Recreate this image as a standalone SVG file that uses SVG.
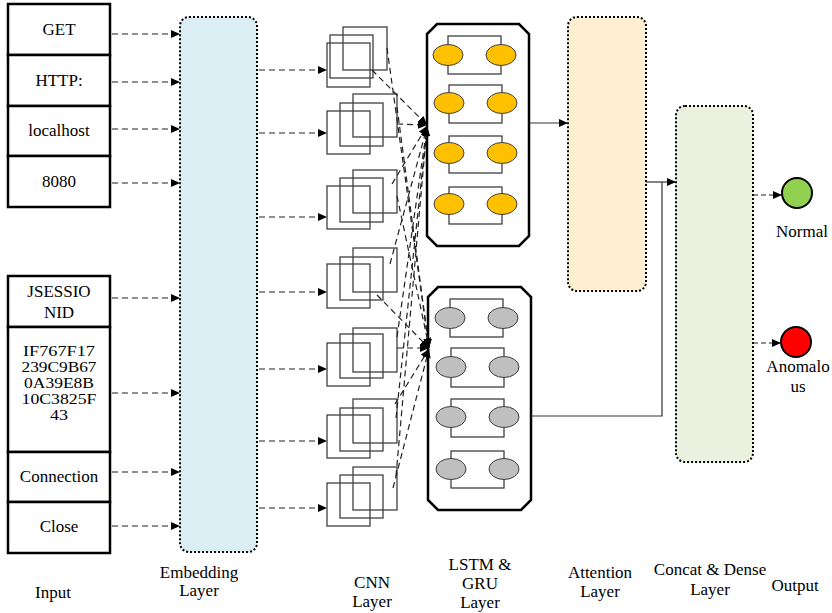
<svg xmlns="http://www.w3.org/2000/svg" width="832" height="613" viewBox="0 0 832 613" font-family="'Liberation Serif', 'DejaVu Serif', serif">
<defs>
<marker id="a" markerUnits="userSpaceOnUse" markerWidth="9" markerHeight="8" refX="9" refY="4" orient="auto"><path d="M0,0 L9,4 L0,8 z" fill="#000"/></marker>
<style>
text{font-family:'Liberation Serif','DejaVu Serif',serif;font-size:17px;fill:#000;text-anchor:middle}
.sm{font-size:15px}
.ib{fill:#fff;stroke:#000;stroke-width:2.5}
.dash{fill:none;stroke:#222;stroke-width:1.2;stroke-dasharray:6,4;marker-end:url(#a)}
.solid{fill:none;stroke:#333;stroke-width:1.2}
.layer{stroke:#000;stroke-width:2;stroke-dasharray:2,2}
.sq{fill:none;stroke:#404040;stroke-width:1.3}
.blk{fill:#fff;stroke:#000;stroke-width:2.5}
.cell{fill:none;stroke:#404040;stroke-width:1.3}
.y{fill:#FFC000;stroke:#404040;stroke-width:1}
.g{fill:#BFBFBF;stroke:#404040;stroke-width:1}
</style>
</defs>

<g id="input">
<rect class="ib" x="8" y="4" width="102" height="51"/>
<rect class="ib" x="8" y="55" width="102" height="51"/>
<rect class="ib" x="8" y="106" width="102" height="50"/>
<rect class="ib" x="8" y="156" width="102" height="51"/>
<rect class="ib" x="8" y="276" width="102" height="51"/>
<rect class="ib" x="8" y="327" width="102" height="125"/>
<rect class="ib" x="8" y="452" width="102" height="50"/>
<rect class="ib" x="8" y="502" width="102" height="51"/>
<text x="59" y="35">GET</text>
<text x="59" y="86">HTTP:</text>
<text x="59" y="136">localhost</text>
<text x="59" y="187">8080</text>
<text x="59" y="297">JSESSIO</text>
<text x="59" y="318">NID</text>
<text class="sm" x="59" y="356" textLength="72" lengthAdjust="spacingAndGlyphs">IF767F17</text>
<text class="sm" x="59" y="372" textLength="75" lengthAdjust="spacingAndGlyphs">239C9B67</text>
<text class="sm" x="59" y="388" textLength="70" lengthAdjust="spacingAndGlyphs">0A39E8B</text>
<text class="sm" x="59" y="404" textLength="75" lengthAdjust="spacingAndGlyphs">10C3825F</text>
<text class="sm" x="59" y="420" textLength="18" lengthAdjust="spacingAndGlyphs">43</text>
<text x="59" y="482">Connection</text>
<text x="59" y="532">Close</text>
</g>

<g id="embedding">
<rect class="layer" x="180" y="17" width="77" height="535" rx="9" fill="#DAEEF3"/>
</g>

<g id="cnn">
<rect class="sq" x="343" y="27" width="44" height="43"/><rect class="sq" x="330" y="35" width="43" height="43"/><rect class="sq" x="327" y="43" width="43" height="44"/>
<rect class="sq" x="353" y="94" width="44" height="43"/><rect class="sq" x="340" y="103" width="43" height="43"/><rect class="sq" x="327" y="111" width="43" height="43"/>
<rect class="sq" x="353" y="170" width="44" height="43"/><rect class="sq" x="340" y="178" width="43" height="44"/><rect class="sq" x="327" y="186" width="43" height="43"/>
<rect class="sq" x="353" y="248" width="44" height="44"/><rect class="sq" x="340" y="257" width="43" height="43"/><rect class="sq" x="327" y="264" width="43" height="44"/>
<rect class="sq" x="353" y="328" width="44" height="44"/><rect class="sq" x="340" y="334" width="43" height="44"/><rect class="sq" x="327" y="343" width="43" height="43"/>
<rect class="sq" x="353" y="399" width="44" height="44"/><rect class="sq" x="340" y="408" width="43" height="43"/><rect class="sq" x="327" y="415" width="43" height="43"/>
<rect class="sq" x="353" y="467" width="44" height="43"/><rect class="sq" x="340" y="475" width="43" height="43"/><rect class="sq" x="327" y="483" width="43" height="43"/>
</g>

<g id="lstm">
<path class="blk" d="M437,24 H519 L529,34 V236 L519,246 H437 L427,236 V34 Z"/>
<rect class="cell" x="448" y="36" width="53" height="38"/><ellipse class="y" cx="448" cy="55" rx="15" ry="10.5"/><ellipse class="y" cx="501" cy="55" rx="15" ry="10.5"/>
<rect class="cell" x="449" y="85" width="53" height="38"/><ellipse class="y" cx="449" cy="103" rx="15" ry="10.5"/><ellipse class="y" cx="502" cy="103" rx="15" ry="10.5"/>
<rect class="cell" x="449" y="136" width="53" height="37"/><ellipse class="y" cx="449" cy="153" rx="15" ry="10.5"/><ellipse class="y" cx="502" cy="153" rx="15" ry="10.5"/>
<rect class="cell" x="449" y="187" width="53" height="37"/><ellipse class="y" cx="449" cy="204" rx="15" ry="10.5"/><ellipse class="y" cx="502" cy="204" rx="15" ry="10.5"/>
</g>

<g id="gru">
<path class="blk" d="M438,287 H521 L531,297 V500 L521,510 H438 L428,500 V297 Z"/>
<rect class="cell" x="450" y="299" width="53" height="38"/><ellipse class="g" cx="450" cy="318" rx="15" ry="10.5"/><ellipse class="g" cx="503" cy="318" rx="15" ry="10.5"/>
<rect class="cell" x="451" y="348" width="53" height="39"/><ellipse class="g" cx="451" cy="367" rx="15" ry="10.5"/><ellipse class="g" cx="504" cy="367" rx="15" ry="10.5"/>
<rect class="cell" x="451" y="399" width="53" height="38"/><ellipse class="g" cx="451" cy="417" rx="15" ry="10.5"/><ellipse class="g" cx="504" cy="417" rx="15" ry="10.5"/>
<rect class="cell" x="451" y="451" width="53" height="37"/><ellipse class="g" cx="451" cy="469" rx="15" ry="10.5"/><ellipse class="g" cx="504" cy="469" rx="15" ry="10.5"/>
</g>

<g id="attention">
<rect class="layer" x="568" y="17" width="78" height="274" rx="9" fill="#FDEFD0"/>
</g>

<g id="concat">
<rect class="layer" x="676" y="106" width="77" height="356" rx="9" fill="#EBF1DE"/>
</g>

<g id="normal">
<circle cx="797" cy="193" r="15" fill="#92D050" stroke="#000" stroke-width="2"/>
<text x="802" y="237">Normal</text>
</g>
<g id="anomalous">
<circle cx="796" cy="342" r="15" fill="#FF0000" stroke="#000" stroke-width="2"/>
<text x="798" y="372">Anomalo</text>
<text x="798" y="392">us</text>
</g>

<g id="labels">
<text x="53" y="598">Input</text>
<text x="199" y="578">Embedding</text>
<text x="199" y="596">Layer</text>
<text x="372" y="588">CNN</text>
<text x="372" y="607">Layer</text>
<text x="480" y="570">LSTM &amp;</text>
<text x="480" y="589">GRU</text>
<text x="480" y="608">Layer</text>
<text x="600" y="578">Attention</text>
<text x="600" y="597">Layer</text>
<text x="710" y="575">Concat &amp; Dense</text>
<text x="710" y="595">Layer</text>
<text x="795" y="591">Output</text>
</g>

<g id="connectors">
<path class="dash" d="M112,34 H180"/>
<path class="dash" d="M112,82 H180"/>
<path class="dash" d="M112,129 H180"/>
<path class="dash" d="M112,183 H180"/>
<path class="dash" d="M112,298 H180"/>
<path class="dash" d="M112,393 H180"/>
<path class="dash" d="M112,472 H180"/>
<path class="dash" d="M112,526 H180"/>

<path class="dash" d="M259,70 H327"/>
<path class="dash" d="M259,133 H327"/>
<path class="dash" d="M259,217 H327"/>
<path class="dash" d="M259,292 H327"/>
<path class="dash" d="M259,369 H327"/>
<path class="dash" d="M259,441 H327"/>
<path class="dash" d="M259,508 H327"/>

<path class="dash" d="M372,70 L427,125"/>
<path class="dash" d="M387,48 L429,348"/>
<path class="dash" d="M397,124 L427,125"/>
<path class="dash" d="M397,107 L429,348"/>
<path class="dash" d="M392,184 L427,126"/>
<path class="dash" d="M397,196 L429,347"/>
<path class="dash" d="M390,264 L427,127"/>
<path class="dash" d="M377,295 L429,348"/>
<path class="dash" d="M397,337 L427,127"/>
<path class="dash" d="M397,348 L429,348"/>
<path class="dash" d="M396,418 L427,127"/>
<path class="dash" d="M395,404 L429,349"/>
<path class="dash" d="M396,476 L427,127"/>
<path class="dash" d="M393,488 L429,349"/>

<path class="solid" d="M529,123 H568" marker-end="url(#a)"/>
<path class="solid" d="M646,182 H676" marker-end="url(#a)"/>
<path class="solid" d="M531,416 H662 V182"/>
<path class="dash" d="M753,195 H782" style="stroke-dasharray:5,3"/>
<path class="dash" d="M753,343 H781" style="stroke-dasharray:5,3"/>
</g>
</svg>
